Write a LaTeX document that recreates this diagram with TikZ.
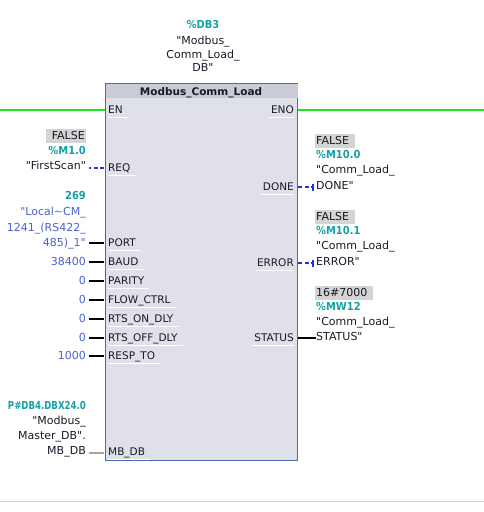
\documentclass[tikz,border=0pt]{standalone}
\usepackage{fontspec}
\usepackage{graphicx}
\setmainfont{DejaVu Sans}[Ligatures=TeXOff]
\newcommand{\qq}{\symbol{34}}
\newcommand{\adr}[2][0.9]{\scalebox{#1}[1]{#2}}
\definecolor{teal1}{RGB}{20,160,165}
\definecolor{cblue}{RGB}{75,95,215}
\definecolor{dtext}{RGB}{25,25,40}
\definecolor{blkfill}{RGB}{223,224,232}
\definecolor{titfill}{RGB}{201,203,214}
\definecolor{blkedge}{RGB}{70,105,185}
\definecolor{wire}{RGB}{30,230,30}
\definecolor{pinblue}{RGB}{30,50,230}
\definecolor{boxgray}{RGB}{212,212,212}
\tikzset{
  txt/.style={inner sep=0pt, text height=8pt, text depth=2pt, font=\fontsize{11}{12}\selectfont},
  addr/.style={txt, text=teal1, font=\fontsize{11}{12}\selectfont\bfseries},
  konst/.style={txt, text=cblue},
  symb/.style={txt, text=dtext},
  pinlab/.style={txt, text=dtext, font=\fontsize{10.5}{12}\selectfont},
  vbox/.style={txt, text=dtext, fill=boxgray, minimum height=14pt, inner xsep=1pt},
  uline/.style={white, line width=1pt},
  solidpin/.style={black, line width=1.8pt},
  boolpin/.style={pinblue, line width=1.5pt, dash pattern=on 4pt off 2.5pt},
  anypin/.style={gray!70, line width=1.8pt},
}
\begin{document}
\begin{tikzpicture}[x=1pt,y=-1pt]
\useasboundingbox (0,0) rectangle (484,512);
% rails
\draw[wire, line width=2pt] (0,110) -- (105,110);
\draw[wire, line width=2pt] (297,110) -- (484,110);
\draw[gray!35, line width=1pt] (0,501) -- (484,501);
% block
\node[draw=blkedge, line width=1.4pt, fill=blkfill, minimum width=192pt, minimum height=377pt, inner sep=0pt, anchor=north west] (blk) at (105,83) {};
\fill[titfill] ([xshift=0.7pt,yshift=-0.7pt]blk.north west) rectangle ([xshift=-0.7pt]blk.north east |- 0,98);
\node[txt, font=\fontsize{10.5}{12}\selectfont\bfseries, text=dtext] (title) at (201,92) {Modbus\_Comm\_Load};
% instance DB
\node[addr] (idb1) at (203,25) {\adr{\%DB3}};
\node[symb] (idb2) at (203,41) {\qq Modbus\_};
\node[symb] (idb3) at (203,55) {Comm\_Load\_};
\node[symb] (idb4) at (203,68) {DB\qq};
% left pin labels
\foreach \n/\t/\y in {en/EN/110, req/REQ/168, port/PORT/243, baud/BAUD/262, parity/PARITY/281, flow/FLOW\_CTRL/300, rtson/RTS\_ON\_DLY/319, rtsoff/RTS\_OFF\_DLY/338, resp/RESP\_TO/356, mbdb/MB\_DB/452}{
  \node[pinlab, anchor=west] (p\n) at (108,\y) {\t};
  \draw[uline] ([yshift=-2pt]p\n.south west) -- ([xshift=5pt,yshift=-2pt]p\n.south east);
}
% right pin labels
\foreach \n/\t/\y in {eno/ENO/110, done/DONE/187, error/ERROR/263, status/STATUS/338}{
  \node[pinlab, anchor=east] (p\n) at (294,\y) {\t};
  \draw[uline] ([xshift=-2pt,yshift=-2pt]p\n.south west) -- ([yshift=-2pt]p\n.south east);
}
% left coordinates on block edge
\foreach \n/\y in {req/168, port/243, baud/262, parity/281, flow/300, rtson/319, rtsoff/338, resp/356, mbdb/453}{
  \coordinate (e\n) at (104,\y);
}
% REQ
\node[vbox, anchor=east, text width=38pt, align=right] (false1) at (86,136) {FALSE};
\node[addr, anchor=east] (m10) at (86,151) {\adr{\%M1.0}};
\node[symb, anchor=east] (fs) at (86,166) {\qq FirstScan\qq};
\draw[boolpin] (ereq) -- ([xshift=3pt]fs.east |- ereq);
% PORT
\node[addr, anchor=east] (v269) at (86,196) {\adr{269}};
\node[konst, anchor=east] (loc1) at (86,212) {\qq Local\textasciitilde CM\_};
\node[konst, anchor=east] (loc2) at (86,228) {1241\_(RS422\_};
\node[konst, anchor=east] (loc3) at (86,243) {485)\_1\qq};
\draw[solidpin] (eport) -- ([xshift=3pt]loc3.east |- eport);
% constants
\node[konst, anchor=east] (vbaud) at (86,262) {38400};
\draw[solidpin] (ebaud) -- ([xshift=3pt]vbaud.east |- ebaud);
\node[konst, anchor=east] (vpar) at (86,281) {0};
\draw[solidpin] (eparity) -- ([xshift=3pt]vpar.east |- eparity);
\node[konst, anchor=east] (vflow) at (86,300) {0};
\draw[solidpin] (eflow) -- ([xshift=3pt]vflow.east |- eflow);
\node[konst, anchor=east] (vron) at (86,319) {0};
\draw[solidpin] (ertson) -- ([xshift=3pt]vron.east |- ertson);
\node[konst, anchor=east] (vroff) at (86,338) {0};
\draw[solidpin] (ertsoff) -- ([xshift=3pt]vroff.east |- ertsoff);
\node[konst, anchor=east] (vresp) at (86,356) {1000};
\draw[solidpin] (eresp) -- ([xshift=3pt]vresp.east |- eresp);
% MB_DB
\node[addr, anchor=east] (pdb) at (86,406) {\adr[0.78]{P\#DB4.DBX24.0}};
\node[symb, anchor=east] (mdb1) at (86,421) {\qq Modbus\_};
\node[symb, anchor=east] (mdb2) at (86,436) {Master\_DB\qq.};
\node[symb, anchor=east] (mdb3) at (86,451) {MB\_DB};
\draw[anypin] (embdb) -- ([xshift=3pt]mdb3.east |- embdb);
% right coordinates
\coordinate (edone) at (298,187);
\coordinate (eerror) at (298,263);
\coordinate (estatus) at (298,338);
% DONE
\node[vbox, anchor=west, text width=38pt, align=left] (false2) at (315,141) {FALSE};
\node[addr, anchor=west] (m100) at (316,155) {\adr{\%M10.0}};
\node[symb, anchor=west] (cd1) at (316,170) {\qq Comm\_Load\_};
\node[symb, anchor=west] (cd2) at (316,186) {DONE\qq};
\coordinate (tdone) at (313,187);
\draw[boolpin] (edone) -- (tdone);
\draw[pinblue, line width=1.5pt] ([yshift=-3.5pt]tdone) -- ([yshift=3.5pt]tdone);
% ERROR
\node[vbox, anchor=west, text width=38pt, align=left] (false3) at (315,217) {FALSE};
\node[addr, anchor=west] (m101) at (316,231) {\adr{\%M10.1}};
\node[symb, anchor=west] (ce1) at (316,246) {\qq Comm\_Load\_};
\node[symb, anchor=west] (ce2) at (316,262) {ERROR\qq};
\coordinate (terror) at (313,263);
\draw[boolpin] (eerror) -- (terror);
\draw[pinblue, line width=1.5pt] ([yshift=-3.5pt]terror) -- ([yshift=3.5pt]terror);
% STATUS
\node[vbox, anchor=west, text width=56pt, align=left] (st0) at (315,293) {16\#7000};
\node[addr, anchor=west] (mw12) at (316,307) {\adr{\%MW12}};
\node[symb, anchor=west] (cs1) at (316,322) {\qq Comm\_Load\_};
\node[symb, anchor=west] (cs2) at (316,337) {STATUS\qq};
\draw[solidpin] (estatus) -- (cs2.west |- estatus);
\end{tikzpicture}
\end{document}
